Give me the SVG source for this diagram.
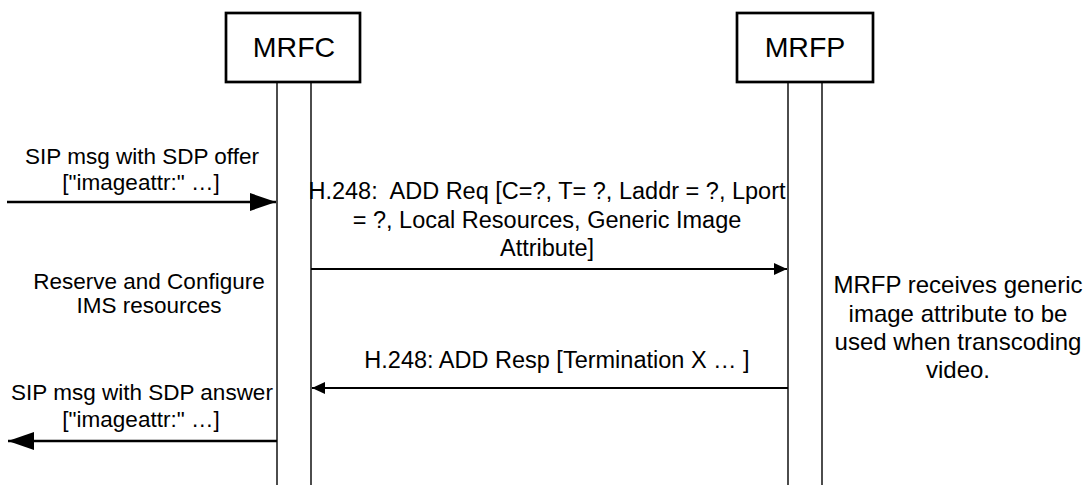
<svg xmlns="http://www.w3.org/2000/svg" width="1088" height="485" viewBox="0 0 1088 485">
<style>
text{font-family:"Liberation Sans",Arial,sans-serif;fill:#000;white-space:pre}
.box{fill:#fff;stroke:#000;stroke-width:2.7}
.life{stroke:#000;stroke-width:1.4;fill:none}
.big{stroke:#000;stroke-width:2.7;fill:none}
.small{stroke:#000;stroke-width:2;fill:none}
.t{font-size:22.5px;text-anchor:middle}
.m{font-size:23.5px;text-anchor:middle}
.r{font-size:24px;text-anchor:middle}
.h{font-size:28.5px;text-anchor:middle}
</style>
<defs>
<marker id="bigHead" markerUnits="userSpaceOnUse" markerWidth="27" markerHeight="18" refX="26" refY="9" orient="auto">
<path d="M0,0 L26,9 L0,18 Z" fill="#000"/>
</marker>
<marker id="smallHead" markerUnits="userSpaceOnUse" markerWidth="14" markerHeight="12" refX="13" refY="6" orient="auto">
<path d="M0,0 L13,6 L0,12 Z" fill="#000"/>
</marker>
</defs>
<rect width="1088" height="485" fill="#fff"/>
<g id="mrfc">
<rect class="box" x="226" y="13" width="134" height="69"/>
<text class="h" x="294" y="57">MRFC</text>
<line class="life" x1="277" y1="82" x2="277" y2="485"/>
<line class="life" x1="311" y1="82" x2="311" y2="485"/>
</g>
<g id="mrfp">
<rect class="box" x="737" y="13" width="136" height="69"/>
<text class="h" x="805" y="57">MRFP</text>
<line class="life" x1="788" y1="82" x2="788" y2="485"/>
<line class="life" x1="822" y1="82" x2="822" y2="485"/>
</g>
<g id="connectors">
<line class="big" x1="7" y1="202" x2="276" y2="202" marker-end="url(#bigHead)"/>
<line class="small" x1="311" y1="269" x2="787" y2="269" marker-end="url(#smallHead)"/>
<line class="small" x1="788" y1="388" x2="312" y2="388" marker-end="url(#smallHead)"/>
<line class="big" x1="277" y1="441" x2="8" y2="441" marker-end="url(#bigHead)"/>
</g>
<g id="labels">
<text class="t" x="142" y="164">SIP msg with SDP offer</text>
<text class="t" x="141" y="190">["imageattr:" …]</text>
<text class="m" x="547" y="199">H.248:  ADD Req [C=?, T= ?, Laddr = ?, Lport</text>
<text class="m" x="547" y="228">= ?, Local Resources, Generic Image</text>
<text class="m" x="547" y="256">Attribute]</text>
<text class="t" x="149" y="289">Reserve and Configure</text>
<text class="t" x="149" y="313">IMS resources</text>
<text class="r" x="958" y="293">MRFP receives generic</text>
<text class="r" x="958" y="322">image attribute to be</text>
<text class="r" x="958" y="350">used when transcoding</text>
<text class="r" x="958" y="378">video.</text>
<text class="m" x="557" y="368">H.248: ADD Resp [Termination X … ]</text>
<text class="t" x="142" y="400">SIP msg with SDP answer</text>
<text class="t" x="141" y="427">["imageattr:" …]</text>
</g>
</svg>
